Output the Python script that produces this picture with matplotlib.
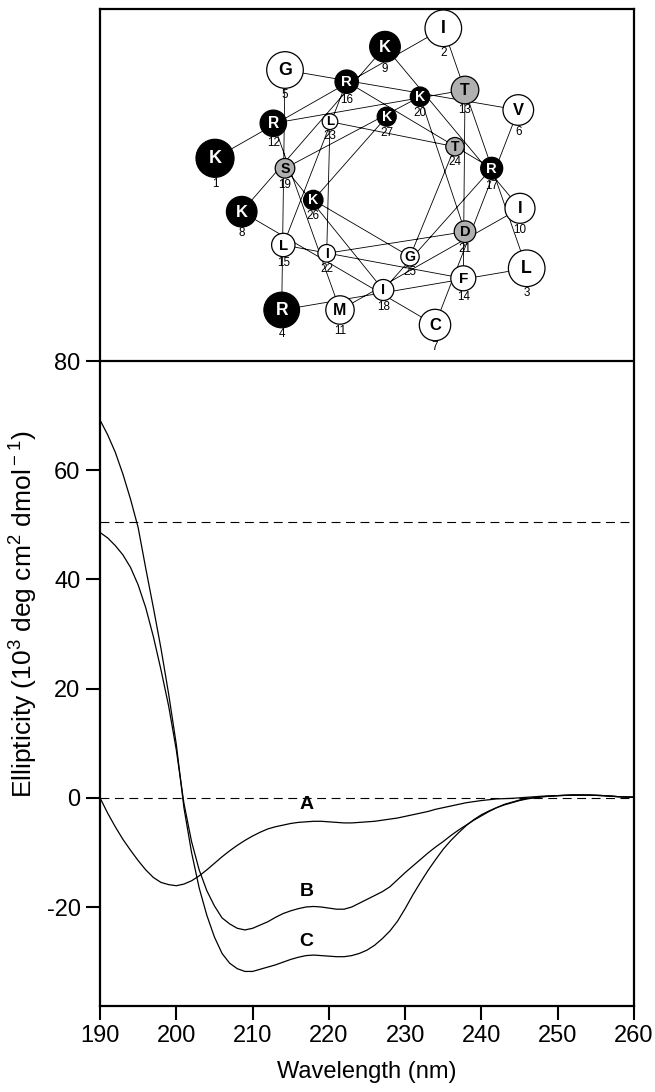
import matplotlib
matplotlib.use('Agg')
import matplotlib.pyplot as plt
from matplotlib.patches import Circle

plt.rcParams['font.family'] = ['Liberation Sans', 'DejaVu Sans']
plt.rcParams['mathtext.fontset'] = 'custom'
plt.rcParams['mathtext.rm'] = 'Liberation Sans'
plt.rcParams['axes.unicode_minus'] = False

# CD spectra (wavelength in nm, ellipticity in 10^3 deg cm2 dmol-1)
wavelength = list(range(190, 247)) + [248, 250, 252, 254, 256, 258, 260]

curve_a = [0.0, -2.8, -5.3, -7.6, -9.6, -11.5, -13.2, -14.6, -15.5, -15.9,
           -16.1, -15.8, -15.2, -14.3, -13.2, -12.0, -10.8, -9.7, -8.7, -7.8,
           -7.0, -6.3, -5.7, -5.3, -5.0, -4.7, -4.5, -4.4, -4.3, -4.3,
           -4.4, -4.5, -4.6, -4.6, -4.5, -4.4, -4.3, -4.1, -3.9, -3.7,
           -3.4, -3.1, -2.8, -2.5, -2.1, -1.8, -1.5, -1.2, -0.9, -0.7,
           -0.5, -0.35, -0.2, -0.15, -0.1, 0.0, 0.1,
           0.3, 0.4, 0.5, 0.5, 0.4, 0.2, 0.1]

curve_b = [48.6, 47.6, 46.2, 44.5, 42.2, 39.0, 34.8, 29.5, 23.4, 16.8,
           8.8, -1.0, -8.0, -13.2, -17.0, -19.8, -22.0, -23.1, -23.9, -24.2,
           -23.9, -23.3, -22.7, -21.9, -21.2, -20.7, -20.3, -20.0, -19.9, -20.0,
           -20.2, -20.4, -20.4, -20.0, -19.3, -18.6, -17.9, -17.2, -16.3, -15.0,
           -13.7, -12.5, -11.3, -10.1, -9.0, -8.0, -6.9, -5.9, -5.0, -4.1,
           -3.3, -2.5, -1.8, -1.2, -0.8, -0.4, -0.1,
           0.2, 0.4, 0.5, 0.5, 0.4, 0.2, 0.1]

curve_c = [69.2, 66.5, 63.3, 59.3, 54.7, 49.5, 42.0, 34.8, 27.3, 19.0,
           9.8, -1.8, -10.0, -16.5, -21.5, -25.5, -28.5, -30.3, -31.3, -31.8,
           -31.8, -31.4, -31.0, -30.6, -30.1, -29.6, -29.2, -28.9, -28.8, -28.9,
           -29.0, -29.1, -29.1, -28.9, -28.5, -27.9, -27.0, -25.8, -24.4, -22.6,
           -20.3, -17.8, -15.5, -13.3, -11.3, -9.4, -7.8, -6.4, -5.1, -4.0,
           -3.1, -2.4, -1.8, -1.3, -0.9, -0.5, -0.2,
           0.2, 0.4, 0.5, 0.5, 0.4, 0.2, 0.1]

curve_names = ['A', 'B', 'C']
name_x = [217.1, 217.1, 217.1]
name_y = [-1.3, -17.2, -26.4]

xticks = [190, 200, 210, 220, 230, 240, 250, 260]
yticks = [-20, 0, 20, 40, 60, 80]
ref_levels = [0, 50.5]

# helical wheel (residue 1..27), positions in pixels
residues = ['K', 'I', 'L', 'R', 'G', 'V', 'C', 'K', 'K', 'I', 'M', 'R', 'T', 'F',
            'L', 'R', 'R', 'I', 'S', 'K', 'D', 'I', 'L', 'T', 'G', 'K', 'K']
residue_kind = ['b', 'w', 'w', 'b', 'w', 'w', 'w', 'b', 'b', 'w', 'w', 'b', 'g', 'w',
                'w', 'b', 'b', 'w', 'g', 'b', 'g', 'w', 'w', 'g', 'w', 'b', 'b']
wheel_x = [215, 443.3, 526.7, 281.7, 285, 518.3, 435, 241.7, 385, 520,
           340, 273.3, 465, 463.3, 283.3, 346.7, 491.7, 383.3, 285, 420,
           465, 326.7, 330, 455, 410, 313.3, 386.7]
wheel_y = [158.3, 28.3, 268.3, 310, 70, 110, 325, 211.7, 46.7, 208.3,
           310, 123.3, 90, 278.3, 245, 81.7, 168.3, 290, 168.3, 96.7,
           231.7, 253.3, 121.7, 146.7, 256.7, 200, 116.7]

# circle sizes (px)
wheel_r = [19, 18.3, 18.3, 17.8, 18.3, 15.3, 15.7, 15.3, 15.3, 15,
           14.2, 13.2, 13.8, 12.5, 11.7, 11.7, 11, 10.5, 9.8, 9.7,
           10.8, 8.8, 7.8, 9.2, 9.2, 9.7, 9.5]
fill = {'b': 'black', 'w': 'white', 'g': '#b0b0b0'}
text_col = {'b': 'white', 'w': 'black', 'g': 'black'}

W, H = 655, 1092
fig = plt.figure(figsize=(W / 100, H / 100), dpi=100)
ax = fig.add_axes([100 / W, 86 / H, 534 / W, 997 / H])

for y in ref_levels:
    ax.axhline(y, color='black', lw=0.8, ls=(0, (8, 5)), zorder=1)
ax.axhline(80, color='black', lw=1.6, zorder=3)

for vals in [curve_a, curve_b, curve_c]:
    ax.plot(wavelength, vals, color='black', lw=0.9, zorder=2)

for n, x, y in zip(curve_names, name_x, name_y):
    ax.text(x, y, n, ha='center', va='center', fontsize=14, fontweight='bold')

ax.set_xlim(190, 260)
ax.set_ylim(-38.13, 144.47)
ax.set_xticks(xticks)
ax.set_yticks(yticks)
ax.tick_params(direction='out', length=10, width=1.5, labelsize=17, pad=4)
for s in ax.spines.values():
    s.set_linewidth(1.6)

ax.set_xlabel('Wavelength (nm)', fontsize=17, labelpad=10)
ax.set_ylabel(r'Ellipticity (10$^{\rm 3}$ deg cm$^{\rm 2}$ dmol$^{\rm -1}$)', fontsize=19)
ax.yaxis.set_label_coords(-0.115, 0.393)

# wheel overlay in pixel units
axw = fig.add_axes([0, 0, 1, 1])
axw.set_xlim(0, W)
axw.set_ylim(H, 0)
axw.axis('off')
axw.plot(wheel_x, wheel_y, color='black', lw=0.6, zorder=1)
for i in range(len(residues)):
    k = residue_kind[i]
    r = wheel_r[i]
    axw.add_patch(Circle((wheel_x[i], wheel_y[i]), r, facecolor=fill[k],
                         edgecolor='black', lw=0.9, zorder=2))
    axw.text(wheel_x[i], wheel_y[i] + 0.5, residues[i], ha='center', va='center',
             fontsize=0.3 * r + 7.3, fontweight='bold', color=text_col[k], zorder=3)
    axw.text(wheel_x[i], wheel_y[i] + r + 6.5, str(i + 1), ha='center', va='center',
             fontsize=8.4, zorder=3)

fig.savefig('out.png', dpi=100)
